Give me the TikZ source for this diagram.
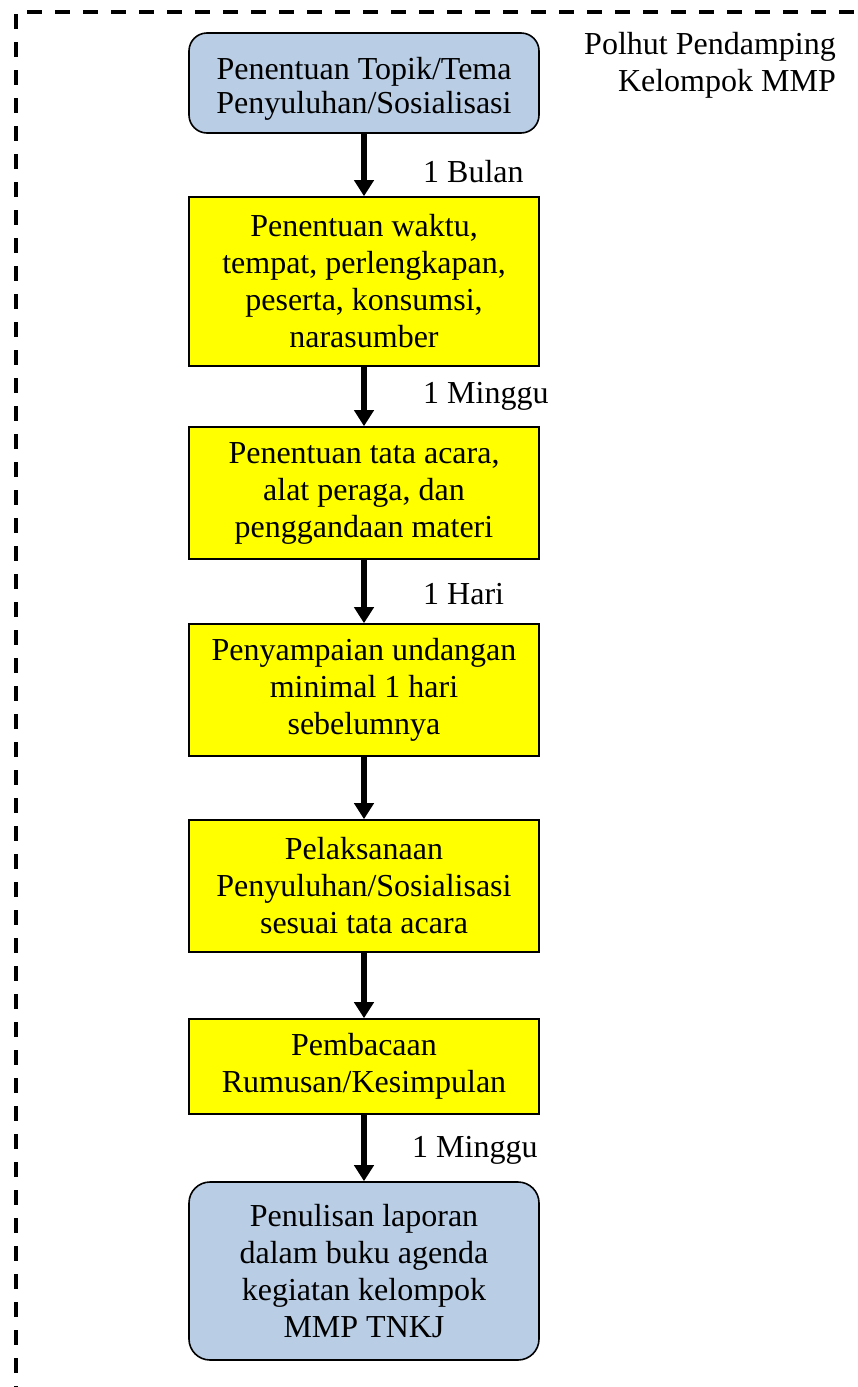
\documentclass[tikz,border=0pt]{standalone}
\usepackage{fontspec}
\setmainfont{Liberation Serif}
\usetikzlibrary{arrows.meta}
\definecolor{stepblue}{HTML}{B9CDE5}
\definecolor{stepyellow}{HTML}{FFFF00}
\begin{document}
\begin{tikzpicture}[x=1pt,y=-1pt,
  every node/.style={font=\fontsize{32}{37}\selectfont, inner sep=0pt},
  roundbox/.style={draw=black, line width=1.6pt, fill=stepblue, rounded corners=18pt,
    align=center, minimum width=350pt},
  stepbox/.style={draw=black, line width=1.6pt, fill=stepyellow,
    align=center, minimum width=350pt},
  flow/.style={line width=6.8pt, -{Triangle[width=19pt,length=16pt]}},
  frame/.style={line width=4.5pt, dash pattern=on 15pt off 13pt}
]
\useasboundingbox (0,0) rectangle (857,1387);

% dashed frame: left side and top side
\coordinate (fl) at (16,14);
\coordinate (flb) at (16,1387);
\coordinate (ft) at (27,12);
\coordinate (ftr) at (857,12);
\draw[frame] (fl) -- (flb);
\draw[frame] (ft) -- (ftr);

% role label
\node[anchor=north east, align=right] (polhut) at (836,32)
  {Polhut Pendamping\\Kelompok MMP};

% steps
\node[roundbox, minimum height=100pt] (topik) at (364,83)
  {\raisebox{-6pt}[\height][\depth]{\shortstack{Penentuan Topik/Tema\\[2pt]Penyuluhan/Sosialisasi}}};
\node[stepbox, minimum height=169pt] (waktu) at (364,281.5)
  {Penentuan waktu,\\tempat, perlengkapan,\\peserta, konsumsi,\\narasumber};
\node[stepbox, minimum height=132pt] (tataacara) at (364,493)
  {Penentuan tata acara,\\alat peraga, dan\\penggandaan materi};
\node[stepbox, minimum height=132pt] (undangan) at (364,690)
  {Penyampaian undangan\\minimal 1 hari\\sebelumnya};
\node[stepbox, minimum height=132pt] (pelaksanaan) at (364,886)
  {Pelaksanaan\\Penyuluhan/Sosialisasi\\sesuai tata acara};
\node[stepbox, minimum height=95pt] (pembacaan) at (364,1066.5)
  {Pembacaan\\Rumusan/Kesimpulan};
\node[roundbox, rounded corners=21pt, minimum height=178pt] (laporan) at (364,1271)
  {Penulisan laporan\\dalam buku agenda\\kegiatan kelompok\\MMP TNKJ};

% connectors
\draw[flow] (topik) -- (waktu);
\draw[flow] (waktu) -- (tataacara);
\draw[flow] (tataacara) -- (undangan);
\draw[flow] (undangan) -- (pelaksanaan);
\draw[flow] (pelaksanaan) -- (pembacaan);
\draw[flow] (pembacaan) -- (laporan);

% time labels
\node[anchor=base west] (lbulan) at (423,182) {1 Bulan};
\node[anchor=base west] (lminggu) at (423,403) {1 Minggu};
\node[anchor=base west] (lhari) at (423,604) {1 Hari};
\node[anchor=base west] (lmingguakhir) at (412,1157) {1 Minggu};
\end{tikzpicture}
\end{document}
